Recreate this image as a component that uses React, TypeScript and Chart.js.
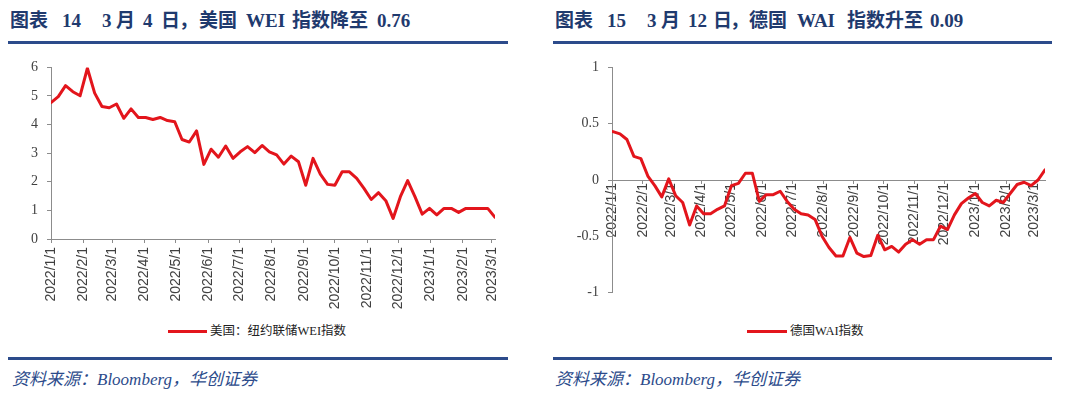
import React, { useEffect, useRef } from "react";
import { Chart, registerables } from "chart.js";
Chart.register(...registerables);

// ---------- DATA ----------
const weiDates = [
  "2022/1/1", "2022/1/8", "2022/1/15", "2022/1/22", "2022/1/29", "2022/2/5", "2022/2/12", "2022/2/19", "2022/2/26",
  "2022/3/5", "2022/3/12", "2022/3/19", "2022/3/26", "2022/4/2", "2022/4/9", "2022/4/16", "2022/4/23", "2022/4/30",
  "2022/5/7", "2022/5/14", "2022/5/21", "2022/5/28", "2022/6/4", "2022/6/11", "2022/6/18", "2022/6/25",
  "2022/7/2", "2022/7/9", "2022/7/16", "2022/7/23", "2022/7/30", "2022/8/6", "2022/8/13", "2022/8/20", "2022/8/27",
  "2022/9/3", "2022/9/10", "2022/9/17", "2022/9/24", "2022/10/1", "2022/10/8", "2022/10/15", "2022/10/22", "2022/10/29",
  "2022/11/5", "2022/11/12", "2022/11/19", "2022/11/26", "2022/12/3", "2022/12/10", "2022/12/17", "2022/12/24", "2022/12/31",
  "2023/1/7", "2023/1/14", "2023/1/21", "2023/1/28", "2023/2/4", "2023/2/11", "2023/2/18", "2023/2/25", "2023/3/4",
];
const weiValues = [
  4.77, 4.98, 5.36, 5.15, 5.01, 5.97, 5.1, 4.63, 4.59,
  4.72, 4.22, 4.55, 4.25, 4.25, 4.18, 4.25, 4.14, 4.1,
  3.48, 3.39, 3.78, 2.61, 3.14, 2.86, 3.25, 2.82,
  3.05, 3.23, 3.02, 3.27, 3.05, 2.94, 2.62, 2.9, 2.7,
  1.88, 2.82, 2.27, 1.91, 1.88, 2.35, 2.35, 2.12, 1.77,
  1.38, 1.62, 1.34, 0.72, 1.48, 2.04, 1.48, 0.87, 1.07,
  0.84, 1.07, 1.07, 0.93, 1.07, 1.07, 1.07, 1.07, 0.76,
];

const waiDates = [
  "2022/1/2", "2022/1/9", "2022/1/16", "2022/1/23", "2022/1/30", "2022/2/6", "2022/2/13", "2022/2/20", "2022/2/27",
  "2022/3/6", "2022/3/13", "2022/3/20", "2022/3/27", "2022/4/3", "2022/4/10", "2022/4/17", "2022/4/24",
  "2022/5/1", "2022/5/8", "2022/5/15", "2022/5/22", "2022/5/29", "2022/6/5", "2022/6/12", "2022/6/19", "2022/6/26",
  "2022/7/3", "2022/7/10", "2022/7/17", "2022/7/24", "2022/7/31", "2022/8/7", "2022/8/14", "2022/8/21", "2022/8/28",
  "2022/9/4", "2022/9/11", "2022/9/18", "2022/9/25", "2022/10/2", "2022/10/9", "2022/10/16", "2022/10/23", "2022/10/30",
  "2022/11/6", "2022/11/13", "2022/11/20", "2022/11/27", "2022/12/4", "2022/12/11", "2022/12/18", "2022/12/25",
  "2023/1/1", "2023/1/8", "2023/1/15", "2023/1/22", "2023/1/29", "2023/2/5", "2023/2/12", "2023/2/19", "2023/2/26",
  "2023/3/5", "2023/3/12",
];
const waiValues = [
  0.43, 0.41, 0.36, 0.21, 0.19, 0.035, -0.05, -0.15, 0.01,
  -0.14, -0.2, -0.4, -0.23, -0.3, -0.3, -0.26, -0.23,
  -0.05, -0.03, 0.06, 0.06, -0.19, -0.13, -0.13, -0.1, -0.19,
  -0.26, -0.3, -0.31, -0.35, -0.5, -0.6, -0.675, -0.675, -0.51,
  -0.65, -0.68, -0.67, -0.49, -0.62, -0.59, -0.64, -0.57, -0.53,
  -0.57, -0.53, -0.53, -0.41, -0.44, -0.31, -0.21, -0.16,
  -0.12, -0.2, -0.23, -0.18, -0.2, -0.12, -0.04, -0.02, -0.05,
  0.0, 0.09,
];

const monthTicks = [
  "2022/1/1", "2022/2/1", "2022/3/1", "2022/4/1", "2022/5/1", "2022/6/1", "2022/7/1", "2022/8/1",
  "2022/9/1", "2022/10/1", "2022/11/1", "2022/12/1", "2023/1/1", "2023/2/1", "2023/3/1",
];

const weiLabel = "美国：纽约联储WEI指数";
const waiLabel = "德国WAI指数";
const sourceText = "资料来源：Bloomberg，华创证券";

// title pieces: [text, left]
const leftTitle: [string, number][] = [
  ["图表", 10], ["14", 62], ["3", 102], ["月", 116], ["4", 143], ["日", 161], ["，", 179],
  ["美国", 199], ["WEI", 246], ["指数降至", 292], ["0.76", 377],
];
const rightTitle: [string, number][] = [
  ["图表", 555], ["15", 607], ["3", 647], ["月", 661], ["12", 688], ["日", 713], ["，", 730],
  ["德国", 749], ["WAI", 797], ["指数升至", 847], ["0.09", 930],
];

// ---------- HELPERS ----------
const BASE = Date.UTC(2022, 0, 1);
const toDay = (s: string) => {
  const [y, m, d] = s.split("/").map(Number);
  return Math.round((Date.UTC(y, m - 1, d) - BASE) / 86400000);
};
const tickLabelByDay = new Map<number, string>(monthTicks.map((t) => [toDay(t), t]));

const RED = "#E3151C";
const AXIS = "#8C8C8C";
const TICKTXT = "#404040";
const BLUE = "#2C4B8B";
const NAVY = "#1F3A6E";

function makeConfig(
  dates: string[],
  values: number[],
  label: string,
  yMin: number,
  yMax: number,
  yStep: number,
  yWidth: number,
  pad: { left: number; right: number; top: number; bottom: number },
  xAtZero: boolean,
  xHeight: number
): any {
  const pts = dates.map((d, i) => ({ x: toDay(d), y: values[i] }));
  const xScale: any = {
    type: "linear",
    min: 0,
    max: toDay(dates[dates.length - 1]),
    position: xAtZero ? { y: 0 } : "bottom",
    afterBuildTicks: (scale: any) => {
      scale.ticks = monthTicks.map((t) => ({ value: toDay(t) }));
    },
    ticks: {
      autoSkip: false,
      maxRotation: 90,
      minRotation: 90,
      padding: xAtZero ? 0 : 4,
      color: TICKTXT,
      font: { family: "'Liberation Sans', Arial, sans-serif", size: 14 },
      callback: (v: number) => tickLabelByDay.get(v) ?? "",
    },
    grid: {
      display: true,
      drawOnChartArea: false,
      drawTicks: true,
      tickLength: xAtZero ? 3 : 4,
      color: AXIS,
      lineWidth: 1,
    },
    border: { display: true, color: AXIS, width: 1 },
  };
  if (!xAtZero) {
    xScale.afterFit = (scale: any) => {
      scale.height = xHeight;
    };
  }
  return {
    type: "line",
    data: {
      datasets: [
        {
          label,
          data: pts,
          borderColor: RED,
          backgroundColor: RED,
          borderWidth: 3,
          pointRadius: 0,
          tension: 0,
          borderJoinStyle: "round",
          borderCapStyle: "round",
        },
      ],
    },
    options: {
      responsive: false,
      animation: false,
      maintainAspectRatio: false,
      layout: { padding: pad },
      plugins: { legend: { display: false }, tooltip: { enabled: false } },
      scales: {
        x: xScale,
        y: {
          type: "linear",
          min: yMin,
          max: yMax,
          afterFit: (scale: any) => {
            scale.width = yWidth;
          },
          ticks: {
            stepSize: yStep,
            padding: 9,
            color: TICKTXT,
            font: { family: "'Liberation Serif', 'Times New Roman', serif", size: 14 },
            callback: (v: number) => String(Math.round(v * 100) / 100),
          },
          grid: {
            display: true,
            drawOnChartArea: false,
            drawTicks: true,
            tickLength: 4,
            color: AXIS,
          },
          border: { display: true, color: AXIS, width: 1 },
        },
      },
    },
  };
}

function ChartCanvas(props: { config: any; left: number; top: number; width: number; height: number }) {
  const ref = useRef<HTMLCanvasElement | null>(null);
  useEffect(() => {
    if (!ref.current) return;
    const chart = new Chart(ref.current, props.config);
    return () => chart.destroy();
  }, []);
  return (
    <canvas
      ref={ref}
      width={props.width}
      height={props.height}
      style={{ position: "absolute", left: props.left, top: props.top, width: props.width, height: props.height }}
    />
  );
}

const titleStyle: React.CSSProperties = {
  position: "absolute",
  top: 8,
  fontFamily: "'Liberation Serif', 'Times New Roman', 'Noto Sans CJK SC', serif",
  fontWeight: "bold",
  fontSize: 19,
  lineHeight: "26px",
  color: NAVY,
  whiteSpace: "pre",
};
const sourceStyle: React.CSSProperties = {
  position: "absolute",
  top: 368,
  fontFamily: "'Liberation Serif', 'Times New Roman', 'Noto Sans CJK SC', serif",
  fontStyle: "italic",
  fontSize: 17,
  lineHeight: "24px",
  color: BLUE,
  whiteSpace: "pre",
};
const legendTextStyle: React.CSSProperties = {
  position: "absolute",
  top: 323,
  fontFamily: "'Liberation Serif', 'Times New Roman', 'Noto Sans CJK SC', serif",
  fontSize: 12.5,
  lineHeight: "16px",
  color: "#222",
  whiteSpace: "pre",
};

function Rule(props: { left: number; top: number; width: number; height: number }) {
  return (
    <div
      style={{
        position: "absolute",
        left: props.left,
        top: props.top,
        width: props.width,
        height: props.height,
        background: BLUE,
      }}
    />
  );
}

function Title(props: { pieces: [string, number][] }) {
  return (
    <>
      {props.pieces.map(([t, x], i) => (
        <span key={i} style={{ ...titleStyle, left: x }}>
          {t}
        </span>
      ))}
    </>
  );
}

export default function App() {
  const leftCfg = makeConfig(weiDates, weiValues, weiLabel, 0, 6, 1, 51, { left: 0, right: 25, top: 17, bottom: 0 }, false, 71);
  const rightCfg = makeConfig(waiDates, waiValues, waiLabel, -1, 1, 0.5, 72, { left: 0, right: 35, top: 16, bottom: 14 }, true, 0);
  return (
    <div style={{ position: "absolute", left: 0, top: 0, width: 1080, height: 397, background: "#fff", overflow: "hidden" }}>
      <Title pieces={leftTitle} />
      <Title pieces={rightTitle} />
      <Rule left={8} top={41} width={500} height={3} />
      <Rule left={553} top={41} width={499} height={3} />

      <ChartCanvas config={leftCfg} left={0} top={50} width={520} height={260} />
      <ChartCanvas config={rightCfg} left={540} top={50} width={540} height={260} />

      <div style={{ position: "absolute", left: 168, top: 330, width: 39, height: 3, background: RED }} />
      <div style={{ ...legendTextStyle, left: 210 }}>{weiLabel}</div>
      <div style={{ position: "absolute", left: 747, top: 330, width: 40, height: 3, background: RED }} />
      <div style={{ ...legendTextStyle, left: 790 }}>{waiLabel}</div>

      <Rule left={8} top={357} width={500} height={3} />
      <Rule left={553} top={357} width={499} height={3} />
      <div style={{ ...sourceStyle, left: 12 }}>{sourceText}</div>
      <div style={{ ...sourceStyle, left: 555 }}>{sourceText}</div>
    </div>
  );
}
